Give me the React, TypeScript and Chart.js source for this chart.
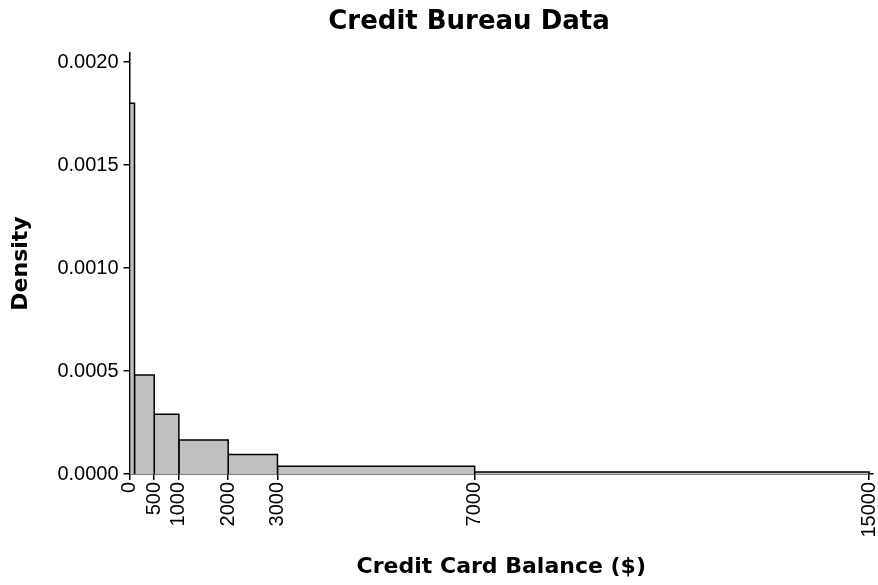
import React, { useEffect, useRef } from "react";
import { Chart, registerables } from "chart.js";

Chart.register(...registerables);

const binEdges = [0, 100, 500, 1000, 2000, 3000, 7000, 15000];
const densities = [0.0018, 0.00048, 0.00029, 0.000165, 0.000095, 0.0000375, 0.00001];
const xTicks = [0, 500, 1000, 2000, 3000, 7000, 15000];
const yTicks = [0, 0.0005, 0.001, 0.0015, 0.002];
const chartTitle = "Credit Bureau Data";
const xTitle = "Credit Card Balance ($)";
const yTitle = "Density";

const titlePlugin = {
  id: "customTitle",
  afterDraw(chart: any) {
    const ctx = chart.ctx;
    ctx.save();
    ctx.font = "bold 26px 'DejaVu Sans'";
    ctx.fillStyle = "#000";
    ctx.textAlign = "center";
    ctx.textBaseline = "middle";
    ctx.fillText(chartTitle, 469, 22);
    ctx.restore();
  },
};

export default function App() {
  const ref = useRef<HTMLCanvasElement | null>(null);
  useEffect(() => {
    if (!ref.current) return;
    const datasets = densities.map((d, i) => ({
      data: [
        { x: binEdges[i], y: 0 },
        { x: binEdges[i], y: d },
        { x: binEdges[i + 1], y: d },
        { x: binEdges[i + 1], y: 0 },
      ],
      showLine: true,
      fill: "origin",
      backgroundColor: "#c0c0c0",
      borderColor: "#000",
      borderWidth: 1.5,
      pointRadius: 0,
      tension: 0,
    }));
    const chart = new Chart(ref.current, {
      type: "scatter",
      data: { datasets: datasets as any },
      plugins: [titlePlugin],
      options: {
        animation: false,
        responsive: true,
        maintainAspectRatio: false,
        layout: { padding: { top: 53, right: 0, left: 8, bottom: 5 } },
        plugins: { legend: { display: false }, tooltip: { enabled: false } },
        scales: {
          x: {
            type: "linear",
            min: 0,
            max: 15080,
            afterBuildTicks: (s: any) => {
              s.ticks = xTicks.map((v) => ({ value: v }));
            },
            afterFit: (s: any) => {
              s.paddingRight = 5;
            },
            ticks: {
              minRotation: 90,
              maxRotation: 90,
              autoSkip: false,
              color: "#000",
              padding: 2,
              font: { family: "'Liberation Sans'", size: 20 },
              callback: (v: any) => String(v),
            },
            grid: { drawOnChartArea: false, drawTicks: true, tickLength: 6, color: "#000", lineWidth: 1.5 },
            border: { display: true, color: "#000", width: 1.5 },
            title: {
              display: true,
              text: xTitle,
              color: "#000",
              font: { family: "'DejaVu Sans'", size: 22, weight: "bold" },
              padding: { top: 14, bottom: 0 },
            },
          },
          y: {
            type: "linear",
            min: 0,
            max: 0.002044,
            afterBuildTicks: (s: any) => {
              s.ticks = yTicks.map((v) => ({ value: v }));
            },
            ticks: {
              color: "#000",
              padding: 5,
              font: { family: "'Liberation Sans'", size: 20 },
              callback: (v: any) => Number(v).toFixed(4),
            },
            grid: { drawOnChartArea: false, drawTicks: true, tickLength: 6, color: "#000", lineWidth: 1.5 },
            border: { display: true, color: "#000", width: 1.5 },
            title: {
              display: true,
              text: yTitle,
              color: "#000",
              font: { family: "'DejaVu Sans'", size: 22, weight: "bold" },
              padding: { top: 0, bottom: 18 },
            },
          },
        },
      },
    });
    return () => chart.destroy();
  }, []);
  return (
    <div style={{ position: "absolute", left: 0, top: 0, width: 878, height: 585 }}>
      <canvas ref={ref} />
    </div>
  );
}
